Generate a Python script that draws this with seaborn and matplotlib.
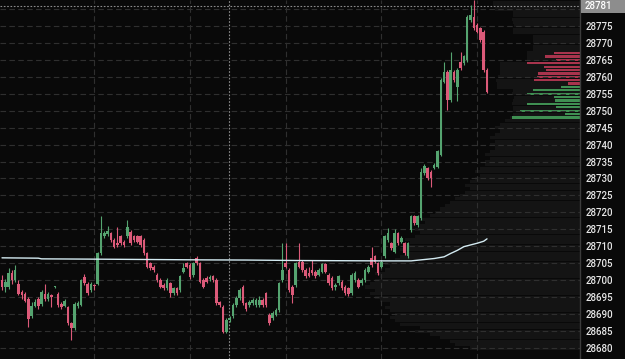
import matplotlib
matplotlib.use("Agg")
import matplotlib.pyplot as plt
import seaborn as sns
import numpy as np
import pandas as pd
from matplotlib.patches import Rectangle

# ---------------- data ----------------
opens = [
    28700.0, 28698.0, 28698.0, 28702.0, 28700.0, 28699.0, 28696.5, 28696.0, 28694.5, 28689.5,
    28692.5, 28694.5, 28693.0, 28696.0, 28694.5, 28695.5, 28698.0, 28696.0, 28693.0, 28692.5,
    28692.0, 28687.3, 28685.8, 28692.3, 28692.8, 28701.0, 28699.0, 28697.0, 28698.5, 28699.0,
    28707.9, 28713.0, 28713.5, 28713.8, 28711.9, 28711.0, 28712.9, 28711.4, 28712.9, 28714.3,
    28712.9, 28712.9, 28712.9, 28711.9, 28707.9, 28705.0, 28704.0, 28701.5, 28700.1, 28698.6,
    28697.6, 28699.1, 28696.1, 28697.6, 28697.1, 28702.5, 28705.0, 28704.5, 28701.5, 28706.5,
    28705.0, 28700.1, 28700.6, 28700.3, 28701.1, 28700.1, 28693.5, 28692.2, 28684.8, 28688.3,
    28689.3, 28692.7, 28694.7, 28698.1, 28693.2, 28692.7, 28693.2, 28692.7, 28692.7, 28694.2,
    28696.1, 28689.8, 28688.8, 28689.8, 28691.2, 28700.1, 28705.0, 28703.0, 28698.1, 28698.6,
    28705.5, 28705.5, 28703.0, 28702.0, 28703.0, 28702.5, 28701.6, 28702.5, 28704.7, 28701.6,
    28700.6, 28698.1, 28699.1, 28699.6, 28698.1, 28697.6, 28696.1, 28700.1, 28700.1, 28699.1,
    28700.1, 28702.5, 28706.5, 28707.0, 28705.0, 28704.0, 28707.0, 28711.9, 28710.9, 28708.4,
    28713.8, 28711.4, 28710.9, 28707.0, 28714.8, 28718.8, 28716.3, 28718.3, 28731.5, 28733.0,
    28732.0, 28733.2, 28733.5, 28737.0, 28758.6, 28761.5, 28753.2, 28761.5, 28757.0, 28764.5,
    28764.0, 28765.0, 28776.8, 28777.7, 28775.3, 28774.3, 28773.3, 28762.0,
]
closes = [
    28698.0, 28699.5, 28702.0, 28700.0, 28703.0, 28696.0, 28695.5, 28694.0, 28688.5, 28692.5,
    28693.5, 28692.5, 28696.5, 28694.5, 28696.0, 28695.0, 28698.1, 28692.7, 28692.2, 28694.0,
    28687.3, 28685.8, 28693.0, 28693.2, 28700.0, 28699.1, 28696.1, 28699.0, 28698.2, 28707.9,
    28713.8, 28713.8, 28714.5, 28711.9, 28709.9, 28710.5, 28710.9, 28710.4, 28715.8, 28710.9,
    28711.9, 28711.4, 28710.4, 28707.9, 28704.0, 28703.5, 28703.0, 28700.1, 28698.1, 28697.6,
    28700.1, 28696.1, 28697.6, 28696.1, 28701.1, 28703.5, 28704.0, 28701.0, 28705.0, 28705.0,
    28699.6, 28698.1, 28699.6, 28701.0, 28700.1, 28693.2, 28692.8, 28684.8, 28688.3, 28689.0,
    28692.7, 28694.7, 28697.1, 28693.2, 28691.5, 28693.7, 28694.2, 28694.2, 28694.2, 28692.7,
    28692.7, 28687.3, 28690.3, 28691.2, 28699.1, 28703.0, 28704.0, 28697.1, 28695.7, 28705.0,
    28704.0, 28703.0, 28701.1, 28701.3, 28702.0, 28701.1, 28703.0, 28704.7, 28702.5, 28699.1,
    28697.6, 28698.6, 28701.1, 28697.6, 28696.1, 28695.8, 28701.6, 28702.1, 28698.1, 28700.1,
    28703.0, 28704.0, 28704.5, 28705.5, 28702.0, 28705.5, 28712.9, 28713.8, 28709.4, 28713.8,
    28710.9, 28712.4, 28707.9, 28710.9, 28718.8, 28716.8, 28718.8, 28732.0, 28733.8, 28730.0,
    28730.0, 28734.0, 28738.0, 28759.0, 28761.5, 28753.2, 28762.0, 28759.0, 28762.0, 28762.5,
    28766.0, 28777.7, 28778.2, 28774.3, 28773.3, 28770.8, 28762.0, 28755.6,
]
highs = [
    28701.5, 28700.5, 28703.5, 28703.0, 28704.5, 28700.0, 28697.0, 28696.5, 28695.0, 28693.5,
    28694.5, 28695.0, 28697.0, 28699.0, 28696.5, 28696.0, 28698.3, 28696.5, 28693.5, 28694.5,
    28692.5, 28687.8, 28693.5, 28693.8, 28700.5, 28701.8, 28699.5, 28699.5, 28699.0, 28708.4,
    28718.8, 28714.5, 28716.0, 28714.3, 28712.4, 28715.8, 28713.4, 28711.9, 28717.8, 28714.8,
    28713.4, 28713.4, 28713.4, 28712.4, 28708.4, 28705.5, 28704.5, 28702.0, 28700.6, 28699.1,
    28700.6, 28699.6, 28698.1, 28698.1, 28701.6, 28705.0, 28705.5, 28705.0, 28705.5, 28707.0,
    28705.5, 28700.6, 28701.1, 28701.5, 28701.6, 28700.6, 28694.0, 28692.7, 28688.8, 28689.5,
    28693.2, 28695.2, 28697.6, 28698.6, 28693.7, 28694.2, 28694.7, 28694.7, 28695.2, 28694.7,
    28696.6, 28690.3, 28690.8, 28691.7, 28699.6, 28710.9, 28710.9, 28703.5, 28698.6, 28705.5,
    28710.9, 28706.0, 28703.5, 28704.0, 28706.0, 28703.0, 28703.5, 28705.2, 28705.2, 28702.1,
    28701.1, 28699.1, 28701.6, 28700.1, 28698.6, 28698.1, 28702.1, 28702.6, 28700.6, 28700.6,
    28703.5, 28704.5, 28709.9, 28707.5, 28705.5, 28706.0, 28713.4, 28715.3, 28711.4, 28715.0,
    28714.3, 28712.9, 28711.4, 28711.4, 28719.3, 28719.3, 28719.3, 28733.0, 28734.3, 28733.5,
    28732.5, 28734.5, 28738.5, 28759.5, 28764.5, 28762.0, 28767.4, 28762.0, 28762.5, 28767.4,
    28766.5, 28778.2, 28781.2, 28782.6, 28775.8, 28774.8, 28773.8, 28762.5,
]
lows = [
    28697.0, 28696.5, 28697.5, 28699.0, 28699.5, 28695.5, 28694.5, 28693.5, 28686.3, 28689.0,
    28692.0, 28691.5, 28692.5, 28694.0, 28694.0, 28692.0, 28697.8, 28692.0, 28691.5, 28692.0,
    28686.8, 28682.4, 28685.3, 28691.8, 28692.3, 28698.6, 28695.6, 28696.5, 28697.0, 28698.6,
    28707.4, 28712.5, 28713.0, 28711.4, 28709.4, 28709.9, 28710.4, 28709.9, 28712.4, 28710.4,
    28711.4, 28710.9, 28709.9, 28707.4, 28703.5, 28703.0, 28702.5, 28699.6, 28697.6, 28697.1,
    28697.1, 28695.1, 28695.6, 28695.6, 28696.6, 28702.0, 28703.5, 28700.5, 28701.0, 28704.5,
    28699.1, 28697.6, 28699.1, 28699.8, 28699.6, 28692.7, 28692.0, 28684.3, 28684.3, 28687.8,
    28688.8, 28692.2, 28694.2, 28692.7, 28691.0, 28692.2, 28692.7, 28692.2, 28692.2, 28692.2,
    28692.2, 28686.8, 28688.3, 28689.3, 28690.7, 28699.6, 28703.5, 28696.6, 28693.2, 28698.1,
    28703.5, 28702.5, 28700.6, 28700.8, 28701.5, 28700.6, 28701.1, 28702.0, 28702.0, 28698.6,
    28697.1, 28697.0, 28698.6, 28697.1, 28695.6, 28695.3, 28695.6, 28699.6, 28697.6, 28698.6,
    28699.6, 28702.0, 28704.0, 28705.0, 28701.5, 28703.5, 28706.5, 28711.4, 28708.9, 28707.9,
    28710.4, 28710.9, 28707.4, 28706.5, 28714.3, 28716.3, 28715.8, 28717.8, 28731.0, 28729.5,
    28727.6, 28732.7, 28733.0, 28736.5, 28758.1, 28750.2, 28752.7, 28758.5, 28753.0, 28762.0,
    28763.5, 28764.5, 28776.3, 28773.8, 28772.8, 28770.3, 28761.5, 28755.1,
]

# moving average (read at selected candles)
ma_idx = [0, 11, 12, 30, 60, 74, 91, 115, 124, 127, 131, 134, 136, 138, 140, 144, 146, 147]
ma_val = [28706.6, 28706.5, 28706.3, 28706.2, 28706.0, 28705.95, 28705.8, 28705.7, 28705.7,
          28706.0, 28706.4, 28706.9, 28707.9, 28708.8, 28709.9, 28710.9, 28711.5, 28712.2]

# volume profile (total) per price level
profile_levels = list(range(28680, 28783))
profile_volume = [
    110, 125, 130, 140, 150, 165, 160, 180, 185, 190,
    185, 190, 195, 190, 200, 205, 210, 205, 215, 210,
    205, 200, 205, 195, 190, 195, 185, 180, 175, 180,
    175, 170, 175, 165, 160, 165, 160, 155, 160, 150,
    145, 140, 135, 130, 125, 120, 115, 110, 115, 110,
    105, 100, 105, 100, 95, 95, 90, 95, 90, 85,
    90, 85, 90, 85, 80, 85, 80, 75, 70, 67,
    67, 67, 68, 67, 66, 68, 67, 83, 83, 84,
    82, 80, 80, 80, 80, 53, 53, 53, 47, 47,
    47, 47, 47, 67, 67, 66, 67, 68, 67, 67,
    85, 87, 87,
]
# session profile: selling / buying levels
sell_levels = [28758, 28759, 28760, 28761, 28762, 28763, 28764, 28765, 28766, 28767]
sell_volume = [12, 46, 43, 42, 34, 36, 53, 24, 35, 26]
buy_levels = [28748, 28749, 28750, 28751, 28752, 28753, 28754, 28755, 28756, 28757]
buy_volume = [68, 15, 60, 24, 53, 25, 26, 53, 47, 19]

price_ticks = list(range(28680, 28780, 5))
last_price = 28781
time_grid = [28, 57, 86, 115, 144]
cursor_idx = 68.8

# ---------------- style ----------------
sns.set_theme(style="dark")
plt.rcParams["font.family"] = ["Roboto", "DejaVu Sans"]

BG = "#090909"
UP = "#55a470"
DN = "#dc5a79"
GRID = "#2f2f2f"

W, H = 625, 359
fig = plt.figure(figsize=(W / 100, H / 100), dpi=100, facecolor=BG)
rect = [0, 0, 580 / W, 1]
ylim = (28676.76, 28782.65)

# profile axis (behind)
axp = fig.add_axes(rect, zorder=0)
axp.set_facecolor(BG)
axp.barh(profile_levels, profile_volume, height=0.92, color="#141414", linewidth=0)
axp.barh(sell_levels, sell_volume, height=0.65, color="#a8344d", linewidth=0)
axp.barh(buy_levels, buy_volume, height=0.65, color="#3f8f52", linewidth=0)
axp.set_xlim(580, 0)
axp.set_ylim(*ylim)
axp.axis("off")

# main axis
ax = fig.add_axes(rect, zorder=1)
ax.set_facecolor("none")
n = len(opens)
px_per = (487 - 2) / (n - 1)
ax.set_xlim(-2 / px_per, 578 / px_per)
ax.set_ylim(*ylim)

for p in price_ticks + [28780]:
    ax.axhline(p, color=GRID, lw=0.8, dashes=(5, 3), zorder=0)
for t in time_grid:
    ax.axvline(t, color=GRID, lw=0.8, dashes=(5, 3), zorder=0)

df = pd.DataFrame({"o": opens, "h": highs, "l": lows, "c": closes})
df["i"] = np.arange(n)
df["up"] = df["c"] >= df["o"]
colors = np.where(df["up"], UP, DN)
ax.vlines(df["i"], df["l"], df["h"], colors=colors, lw=0.8, zorder=2)
bottoms = np.minimum(df["o"], df["c"])
heights = np.maximum(np.abs(df["c"] - df["o"]), 0.3)
ax.bar(df["i"], heights, bottom=bottoms, width=0.78, color=colors, linewidth=0, zorder=3)

sns.lineplot(x=ma_idx, y=ma_val, ax=ax, color="#d3eaf1", lw=1.0, zorder=4)

# crosshair
ax.axvline(cursor_idx, color="#8c8c8c", lw=0.8, dashes=(1.5, 1.5), zorder=1)
ax.axhline(last_price, color="#8c8c8c", lw=0.8, dashes=(1.5, 1.5), zorder=1)

ax.yaxis.tick_right()
ax.set_yticks(price_ticks)
ax.set_yticklabels([str(p) for p in price_ticks])
ax.tick_params(axis="y", length=0, pad=4, labelsize=7, labelcolor="#e6e6e6")
for lab in ax.get_yticklabels():
    lab.set_fontweight("medium")
ax.set_xticks([])
for s in ["top", "left", "bottom"]:
    ax.spines[s].set_visible(False)
ax.spines["right"].set_color("#3c3c3c")
ax.spines["right"].set_linewidth(1)
ax.grid(False)
ax.set_xlabel("")
ax.set_ylabel("")

# last price tag
ytag = (last_price - ylim[0]) / (ylim[1] - ylim[0])
fig.patches.append(Rectangle((581 / W, ytag - 7 / H), 44 / W, 14 / H, transform=fig.transFigure,
                             facecolor="#8d8d8d", edgecolor="none", zorder=5))
fig.text(585 / W, ytag, str(last_price), color="white", fontsize=7, fontweight="medium",
         va="center", ha="left", zorder=6)

fig.savefig("out.png", dpi=100, facecolor=BG)
